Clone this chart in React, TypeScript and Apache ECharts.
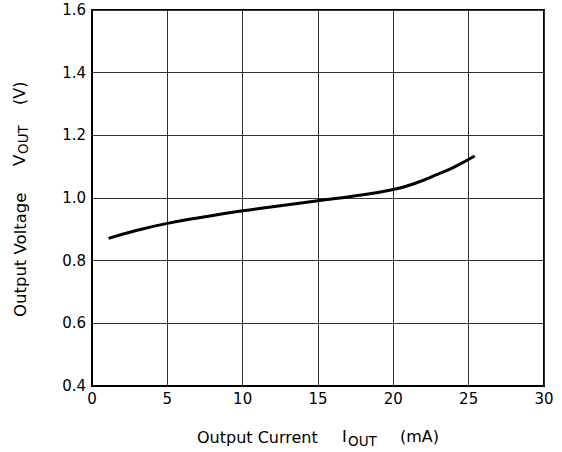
import React, { useEffect, useRef } from "react";
import * as echarts from "echarts";

const currentMA = [1.1, 3, 5, 7.5, 10, 12.5, 15, 17.5, 20, 21.5, 23, 24, 25.4];
const voltageV = [0.871, 0.897, 0.919, 0.94, 0.959, 0.975, 0.991, 1.007, 1.027, 1.048, 1.077, 1.098, 1.134];
const xTicks = [0, 5, 10, 15, 20, 25, 30];
const yTicks = [0.4, 0.6, 0.8, 1.0, 1.2, 1.4, 1.6];

const FONT = "DejaVu Sans";

export default function App() {
  const ref = useRef<HTMLDivElement>(null);
  useEffect(() => {
    if (!ref.current) return;
    const chart = echarts.init(ref.current, undefined, { renderer: "svg" });
    const base = { fontFamily: FONT, fill: "#000", verticalAlign: "middle" };
    chart.setOption({
      animation: false,
      backgroundColor: "#fff",
      grid: {
        left: 92,
        top: 10,
        right: 18,
        bottom: 66,
        show: true,
        borderColor: "#000",
        borderWidth: 2,
      },
      xAxis: {
        type: "value",
        min: xTicks[0],
        max: xTicks[xTicks.length - 1],
        interval: 5,
        axisLine: { show: true, lineStyle: { color: "#000", width: 2 } },
        axisTick: { show: false },
        axisLabel: { color: "#000", fontFamily: FONT, fontSize: 15, margin: 5 },
        splitLine: { show: true, lineStyle: { color: "#333", width: 1 } },
      },
      yAxis: {
        type: "value",
        min: yTicks[0],
        max: yTicks[yTicks.length - 1],
        interval: 0.2,
        axisLine: { show: true, lineStyle: { color: "#000", width: 2 } },
        axisTick: { show: false },
        axisLabel: {
          color: "#000",
          fontFamily: FONT,
          fontSize: 15,
          margin: 6,
          formatter: (v: number) => v.toFixed(1),
        },
        splitLine: { show: true, lineStyle: { color: "#333", width: 1 } },
      },
      graphic: [
        {
          type: "group",
          x: 197,
          y: 437,
          children: [
            { type: "text", x: 0, y: 0, style: { ...base, fontSize: 16, text: "Output Current" } },
            { type: "text", x: 342 - 197, y: -1, style: { ...base, fontSize: 16, text: "I" } },
            { type: "text", x: 348 - 197, y: 4, style: { ...base, fontSize: 13.5, text: "OUT" } },
            { type: "text", x: 400 - 197, y: -1, style: { ...base, fontSize: 16, text: "(mA)" } },
          ],
        },
        {
          type: "group",
          x: 20,
          y: 317,
          rotation: Math.PI / 2,
          children: [
            { type: "text", x: 0, y: 0, style: { ...base, fontSize: 16.5, text: "Output Voltage" } },
            { type: "text", x: 151, y: -1, style: { ...base, fontSize: 16.5, text: "V" } },
            { type: "text", x: 163, y: 3, style: { ...base, fontSize: 13.5, text: "OUT" } },
            { type: "text", x: 212, y: -1, style: { ...base, fontSize: 16, text: "(V)" } },
          ],
        },
      ],
      series: [
        {
          type: "line",
          data: currentMA.map((x, i) => [x, voltageV[i]]),
          smooth: true,
          showSymbol: false,
          lineStyle: { color: "#000", width: 3 },
        },
      ],
    });
    return () => chart.dispose();
  }, []);
  return (
    <div
      ref={ref}
      style={{ position: "fixed", left: 0, top: 0, width: 562, height: 452 }}
    />
  );
}
